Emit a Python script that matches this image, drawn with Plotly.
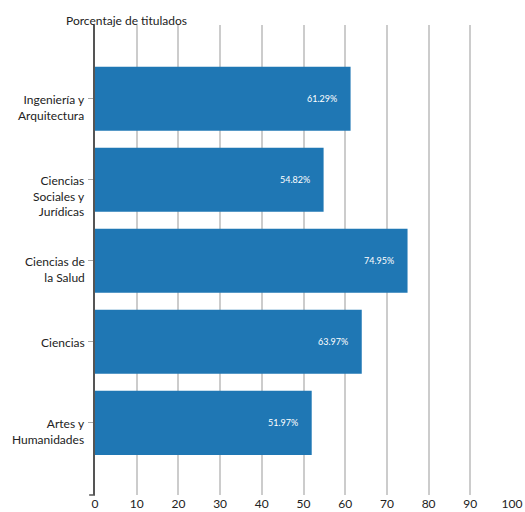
import plotly.graph_objs as go

ramas = ["Ingeniería y<br>Arquitectura", "Ciencias<br>Sociales y<br>Jurídicas",
         "Ciencias de<br>la Salud", "Ciencias", "Artes y<br>Humanidades"]
porcentaje = [61.29, 54.82, 74.95, 63.97, 51.97]
ticks_x = [0, 10, 20, 30, 40, 50, 60, 70, 80, 90, 100]

font = "Lato, 'Open Sans', sans-serif"

fig = go.Figure()
fig.add_trace(go.Bar(
    x=porcentaje, y=ramas, orientation="h",
    marker=dict(color="#1f77b4", line=dict(width=0)),
    width=0.79, hoverinfo="skip",
))

# etiquetas de valor dentro de la barra
for r, v in zip(ramas, porcentaje):
    fig.add_annotation(x=v, y=r, text=f"{v:.2f}%", showarrow=False,
                       xanchor="right", xshift=-12,
                       font=dict(color="white", size=9, family=font))

# etiquetas del eje y: primera línea alineada con la marca
for r in ramas:
    fig.add_annotation(xref="paper", x=0, y=r, xshift=-8, yshift=9,
                       xanchor="right", yanchor="top", align="right",
                       showarrow=False, text=r,
                       font=dict(size=12, color="#222", family=font))

fig.add_annotation(xref="paper", yref="paper", x=0, y=1, xshift=-31, yshift=5,
                   xanchor="left", yanchor="middle", showarrow=False,
                   text="Porcentaje de titulados",
                   font=dict(size=12, color="#222", family=font))

# marca inferior del eje y
fig.add_shape(type="line", xref="paper", yref="paper",
              x0=-0.014, x1=0, y0=0, y1=0,
              line=dict(color="#555", width=1.5))

fig.update_xaxes(range=[0, 100], tickvals=ticks_x, showgrid=True,
                 gridcolor="#cccccc", gridwidth=1.5, zeroline=False,
                 showline=False, ticks="", automargin=False,
                 tickfont=dict(size=12, color="#222"))
fig.update_yaxes(range=[4.89, -0.91], showline=True, linecolor="#555",
                 linewidth=1.5, ticks="outside", ticklen=5, tickcolor="#aaa",
                 showgrid=False, showticklabels=False, automargin=False)
fig.update_layout(
    width=525, height=512, plot_bgcolor="white", paper_bgcolor="white",
    margin=dict(l=95, r=13, t=25, b=17, autoexpand=False), showlegend=False,
    font=dict(family=font), bargap=0.21,
)
# sin el margen por defecto del <body>
fig.write_html("out.html", config={"displayModeBar": False},
               post_script="document.body.style.margin='0';"
                           "document.body.style.overflow='hidden';")
